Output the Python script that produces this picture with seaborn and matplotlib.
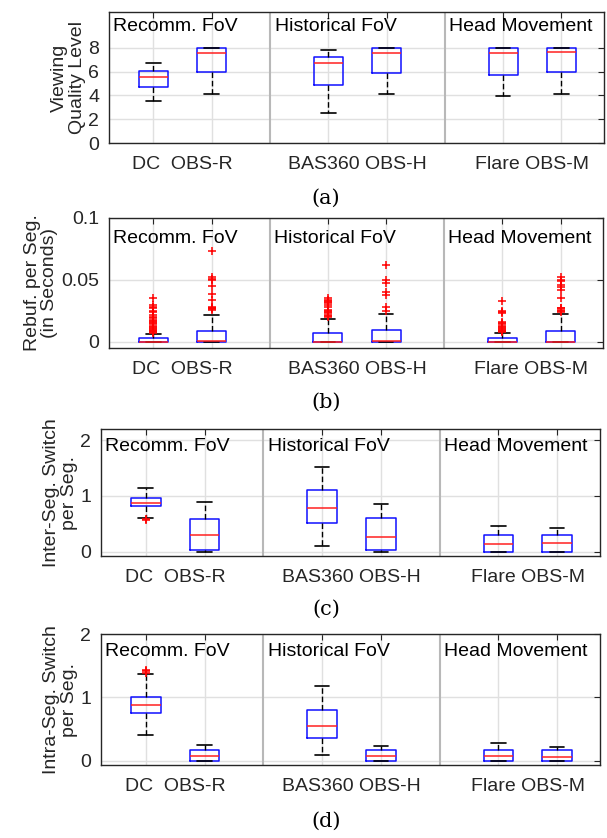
import numpy as np
import matplotlib
matplotlib.use("Agg")
import matplotlib.pyplot as plt
import seaborn as sns

# ---------------- data ----------------
methods = ["DC", "OBS-R", "BAS360", "OBS-H", "Flare", "OBS-M"]
positions = [1, 2, 4, 5, 7, 8]
group_names = ["Recomm. FoV", "Historical FoV", "Head Movement"]
group_text_x = [0.31, 3.08, 6.07]
group_centers = [1.5, 4.5, 7.5]
group_tick_labels = ["DC  OBS-R", "BAS360 OBS-H", "Flare OBS-M"]
separators = [3, 6]

# (a) Viewing quality level
qual_q1 = [4.68, 5.93, 4.85, 5.90, 5.74, 5.93]
qual_med = [5.54, 7.58, 6.74, 7.58, 7.58, 7.60]
qual_q3 = [6.02, 8.00, 7.19, 7.95, 7.97, 7.95]
qual_lo = [3.54, 4.15, 2.53, 4.09, 3.93, 4.15]
qual_hi = [6.74, 8.00, 7.83, 8.00, 8.00, 8.00]
qual_fliers = [[], [], [], [], [], []]

# (b) Rebuffering per segment (s)
rebuf_q1 = [0, 0, 0, 0, 0, 0]
rebuf_med = [0.0, 0.0005, 0.0, 0.0005, 0.0, 0.0]
rebuf_q3 = [0.0031, 0.0088, 0.0074, 0.0094, 0.0032, 0.0089]
rebuf_lo = [0, 0, 0, 0, 0, 0]
rebuf_hi = [0.0062, 0.0217, 0.0188, 0.0228, 0.0068, 0.0223]
rebuf_fliers = [
    [0.0075, 0.008, 0.0085, 0.009, 0.0095, 0.010, 0.011, 0.012, 0.013, 0.014,
     0.015, 0.016, 0.017, 0.018, 0.019, 0.020, 0.022, 0.024, 0.025, 0.027,
     0.028, 0.030, 0.035],
    [0.026, 0.0265, 0.027, 0.0275, 0.028, 0.034, 0.039, 0.045, 0.050, 0.051,
     0.052, 0.073],
    [0.020, 0.021, 0.022, 0.023, 0.024, 0.025, 0.026, 0.028, 0.030, 0.031,
     0.032, 0.033, 0.034, 0.035],
    [0.025, 0.028, 0.0376, 0.0406, 0.0476, 0.050, 0.0618],
    [0.008, 0.0085, 0.009, 0.0095, 0.010, 0.011, 0.012, 0.013, 0.014, 0.015,
     0.016, 0.0235, 0.024, 0.0245, 0.033],
    [0.024, 0.025, 0.026, 0.027, 0.0275, 0.035, 0.042, 0.044, 0.046, 0.049,
     0.050, 0.052],
]

# (c) Inter-segment switches per segment
inter_q1 = [0.81, 0.02, 0.52, 0.02, 0.0, 0.0]
inter_med = [0.88, 0.30, 0.78, 0.27, 0.13, 0.15]
inter_q3 = [0.96, 0.59, 1.10, 0.60, 0.30, 0.29]
inter_lo = [0.61, 0.0, 0.10, 0.0, 0.0, 0.0]
inter_hi = [1.14, 0.89, 1.52, 0.85, 0.45, 0.42]
inter_fliers = [[0.57, 0.59], [], [], [], [], []]

# (d) Intra-segment switches per segment
intra_q1 = [0.75, 0.0, 0.35, 0.0, 0.0, 0.0]
intra_med = [0.88, 0.08, 0.54, 0.08, 0.07, 0.06]
intra_q3 = [1.00, 0.17, 0.80, 0.17, 0.17, 0.16]
intra_lo = [0.40, 0.0, 0.09, 0.0, 0.0, 0.0]
intra_hi = [1.37, 0.24, 1.18, 0.23, 0.27, 0.21]
intra_fliers = [[1.39, 1.41, 1.43], [], [], [], [], []]

# ---------------- style ----------------
sns.set_theme(style="white")
plt.rcParams["font.family"] = ["Liberation Sans", "DejaVu Sans"]
TXT = "#262626"

W, H = 607, 838
fig = plt.figure(figsize=(W / 100, H / 100), dpi=100)


def rect(l, r, t, b):
    return [l / W, 1 - b / H, (r - l) / W, (b - t) / H]


def draw(ax, q1, med, q3, lo, hi, fl, ylim, yticks, yticklabels, ylabel, text_y):
    stats = []
    for i, m in enumerate(methods):
        stats.append(dict(label=m, q1=q1[i], med=med[i], q3=q3[i],
                          whislo=lo[i], whishi=hi[i], fliers=np.array(fl[i])))
    ax.bxp(stats, positions=positions, widths=0.5, capwidths=0.25,
           manage_ticks=False, showfliers=True,
           boxprops=dict(color="#1010ff", lw=1.1),
           medianprops=dict(color="#ff2020", lw=1.1),
           whiskerprops=dict(color="black", lw=1.0, linestyle=(0, (4, 2))),
           capprops=dict(color="black", lw=1.2),
           flierprops=dict(marker="+", markeredgecolor="red", markersize=6,
                           markeredgewidth=1.1, linestyle="none"))
    ax.set_xlim(0.237, 8.73)
    ax.set_ylim(*ylim)
    ax.set_xticks(positions)
    ax.set_xticklabels([])
    ax.set_xticks(group_centers, minor=True)
    ax.set_xticklabels(group_tick_labels, minor=True)
    ax.set_yticks(yticks)
    ax.set_yticklabels(yticklabels)
    ax.grid(True, which="major", color="#e0e0e0", lw=1.0)
    ax.set_axisbelow(True)
    for s in separators:
        ax.axvline(s, color="#b8b8b8", lw=1.5, zorder=1)
    ax.tick_params(which="major", direction="in", length=4, width=0.8,
                   top=True, right=True, colors=TXT, labelsize=14, pad=7)
    ax.tick_params(axis="x", which="minor", length=0, pad=9, labelsize=14,
                   colors=TXT)
    for sp in ax.spines.values():
        sp.set_color(TXT)
        sp.set_linewidth(1.0)
    ax.set_ylabel(ylabel, fontsize=14, color=TXT, labelpad=2,
                  multialignment="center", linespacing=1.05)
    for x, name in zip(group_text_x, group_names):
        ax.text(x, text_y, name, fontsize=14, color="black", ha="left",
                va="baseline")


ax_a = fig.add_axes(rect(109, 604, 12, 143))
draw(ax_a, qual_q1, qual_med, qual_q3, qual_lo, qual_hi, qual_fliers,
     (0, 11), [0, 2, 4, 6, 8], ["0", "2", "4", "6", "8"],
     "Viewing\nQuality Level", 9.43)

ax_b = fig.add_axes(rect(109, 603, 218, 348))
draw(ax_b, rebuf_q1, rebuf_med, rebuf_q3, rebuf_lo, rebuf_hi, rebuf_fliers,
     (-0.005, 0.1), [0, 0.05, 0.1], ["0", "0.05", "0.1"],
     "Rebuf. per Seg.\n(in Seconds)", 0.0796)

ax_c = fig.add_axes(rect(101, 600, 429, 556))
draw(ax_c, inter_q1, inter_med, inter_q3, inter_lo, inter_hi, inter_fliers,
     (-0.08, 2.2), [0, 1, 2], ["0", "1", "2"],
     "Inter-Seg. Switch\nper Seg.", 1.81)

ax_d = fig.add_axes(rect(101, 600, 634, 765))
draw(ax_d, intra_q1, intra_med, intra_q3, intra_lo, intra_hi, intra_fliers,
     (-0.07, 2.0), [0, 1, 2], ["0", "1", "2"],
     "Intra-Seg. Switch\nper Seg.", 1.66)

for lab, y in zip(["(a)", "(b)", "(c)", "(d)"], [198, 402, 609, 821]):
    fig.text(326 / W, 1 - y / H, lab, family="DejaVu Serif", fontsize=15,
             ha="center", va="center", color="black")

fig.savefig("out.png", dpi=100)
